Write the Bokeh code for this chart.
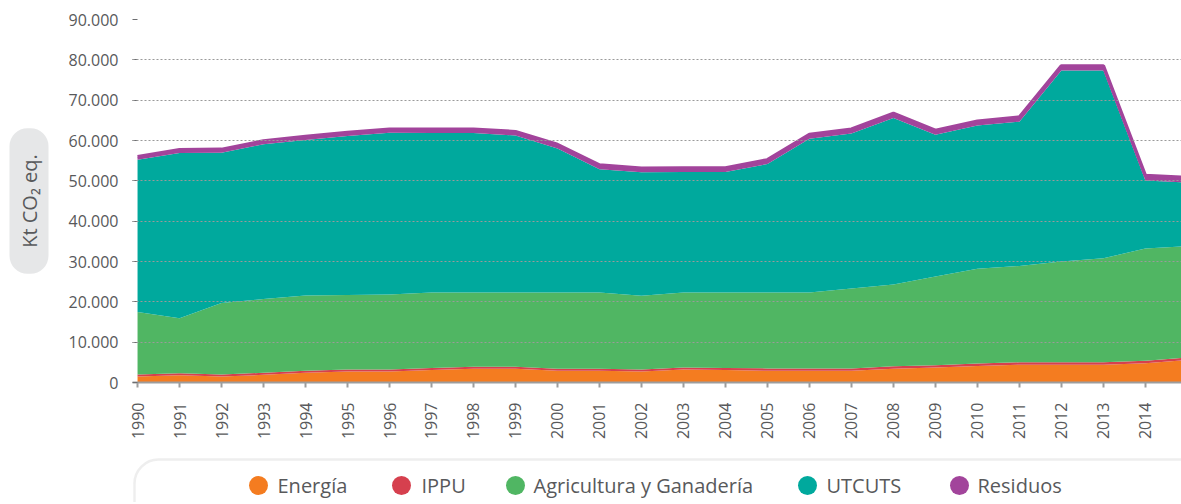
import numpy as np
from math import pi
from bokeh.plotting import figure
from bokeh.layouts import column
from bokeh.models import ColumnDataSource, Range1d, FixedTicker, Title, BoxAnnotation
from bokeh.core.properties import value
from bokeh.embed import file_html
from bokeh.resources import INLINE

# ---------------- data ----------------
years = list(range(1990, 2016))
energia = [1500, 1800, 1500, 1900, 2400, 2700, 2700, 3100, 3400, 3400, 2900, 2900, 2700,
           3200, 3100, 2900, 2900, 2900, 3400, 3700, 4100, 4400, 4400, 4400, 4800, 5600]
ippu = [500, 500, 500, 500, 500, 500, 500, 500, 500, 500, 500, 500, 500,
        500, 500, 600, 600, 600, 600, 600, 600, 600, 600, 600, 600, 600]
agricultura = [15500, 13600, 17700, 18300, 18700, 18500, 18600, 18700, 18400, 18400, 18900, 18900, 18300,
               18600, 18700, 18800, 18800, 19800, 20300, 22000, 23500, 23900, 25000, 25800, 27800, 27600]
utcuts = [37700, 41000, 37250, 38350, 38500, 39400, 40100, 39550, 39550, 38950, 35700, 30600, 30600,
          29900, 29900, 31850, 38150, 38450, 41300, 35100, 35500, 35750, 47350, 46550, 16900, 15800]
residuos = [800, 800, 850, 850, 900, 900, 900, 950, 950, 950, 1000, 1000, 1000,
            1000, 1000, 1050, 1050, 1050, 1100, 1100, 1100, 1150, 1150, 1150, 1200, 1200]

series_names = ["Energía", "IPPU", "Agricultura y Ganadería", "UTCUTS", "Residuos"]
y_ticks = [0, 10000, 20000, 30000, 40000, 50000, 60000, 70000, 80000, 90000]
y_tick_labels = ["0", "10.000", "20.000", "30.000", "40.000", "50.000",
                 "60.000", "70.000", "80.000", "90.000"]
y_title = "Kt CO₂ eq."

# ---------------- styles ----------------
colors = ["#F47C20", "#D6404E", "#50B663", "#00A99D", "#A2449B"]
FONT = "Open Sans"
TXT = "#58595B"
W = 1181
FRAME_LEFT = 132
NB = "\u00a0" * 5

keys = ["energia", "ippu", "agricultura", "utcuts", "residuos"]
source = ColumnDataSource(dict(year=years, energia=energia, ippu=ippu, agricultura=agricultura,
                               utcuts=utcuts, residuos=residuos))
total = np.sum([energia, ippu, agricultura, utcuts, residuos], axis=0)

p = figure(width=W, height=450, output_backend="svg", toolbar_location=None,
           x_range=Range1d(1989.88, 2014.86), y_range=Range1d(0, 90000),
           min_border_left=FRAME_LEFT, min_border_right=0, min_border_top=19, min_border_bottom=68)
p.outline_line_color = None

p.varea_stack(stackers=keys, x="year", color=colors, source=source)
p.line(x=years, y=total, line_color=colors[4], line_width=3.5)

# axes
p.xaxis.ticker = FixedTicker(ticks=years)
p.xaxis.major_label_orientation = pi / 2
p.xaxis.major_label_text_font = FONT
p.xaxis.major_label_text_font_size = "16px"
p.xaxis.major_label_text_color = TXT
p.xaxis.axis_line_color = "#9D9D9D"
p.xaxis.axis_line_width = 2
p.xaxis.major_tick_line_color = "#9D9D9D"
p.xaxis.major_tick_line_width = 2
p.xaxis.major_tick_out = 5
p.xaxis.major_tick_in = 0
p.xaxis.minor_tick_line_color = None
p.xaxis.major_label_standoff = 15

p.yaxis.ticker = FixedTicker(ticks=y_ticks)
p.yaxis.major_label_overrides = {t: l for t, l in zip(y_ticks, y_tick_labels)}
p.yaxis.major_label_text_font = FONT
p.yaxis.major_label_text_font_size = "16px"
p.yaxis.major_label_text_color = TXT
p.yaxis.axis_line_color = None
p.yaxis.major_tick_line_color = "#6D6E71"
p.yaxis.major_tick_out = 0
p.yaxis.major_tick_in = 5
p.yaxis.minor_tick_line_color = None
p.yaxis.major_label_standoff = 14

p.xgrid.grid_line_color = None
p.ygrid.grid_line_color = "#9A9A9A"
p.ygrid.grid_line_dash = "2 2"
p.ygrid.grid_line_width = 1.2
p.ygrid.level = "overlay"

# y title in grey pill
p.add_layout(Title(text=NB + y_title + NB, align="center", text_font=FONT, text_font_size="20px",
                   text_font_style="normal", text_color=TXT,
                   background_fill_color="#E6E7E8", border_radius=18, offset=6,
                   padding=dict(left=0, right=0, top=6, bottom=6), standoff=34), "left")

# ---------------- legend strip ----------------
lg = figure(width=W, height=52, output_backend="svg", toolbar_location=None,
            x_range=Range1d(FRAME_LEFT, W), y_range=Range1d(0, 52),
            min_border=0, min_border_left=FRAME_LEFT, min_border_right=0,
            min_border_top=0, min_border_bottom=0)
lg.axis.visible = False
lg.grid.visible = False
lg.outline_line_color = None
lg.add_layout(BoxAnnotation(left=134, right=1240, top=43, bottom=-40, fill_color=None,
                            line_color="#C8C8C8", line_width=2.5, border_radius=24))
dot_x = [258, 401, 515, 807, 959]
txt_x = [277, 421, 533, 826, 977]
lg.scatter(x=dot_x, y=[17] * 5, size=19, color=colors, line_color=None)
lg.text(x=txt_x, y=[17] * 5, text=series_names, text_baseline="middle", text_align="left",
        text_font=value(FONT), text_font_size="20px", text_color=TXT)

layout = column(p, lg, spacing=0)
open("out.html", "w").write(file_html(layout, INLINE))
